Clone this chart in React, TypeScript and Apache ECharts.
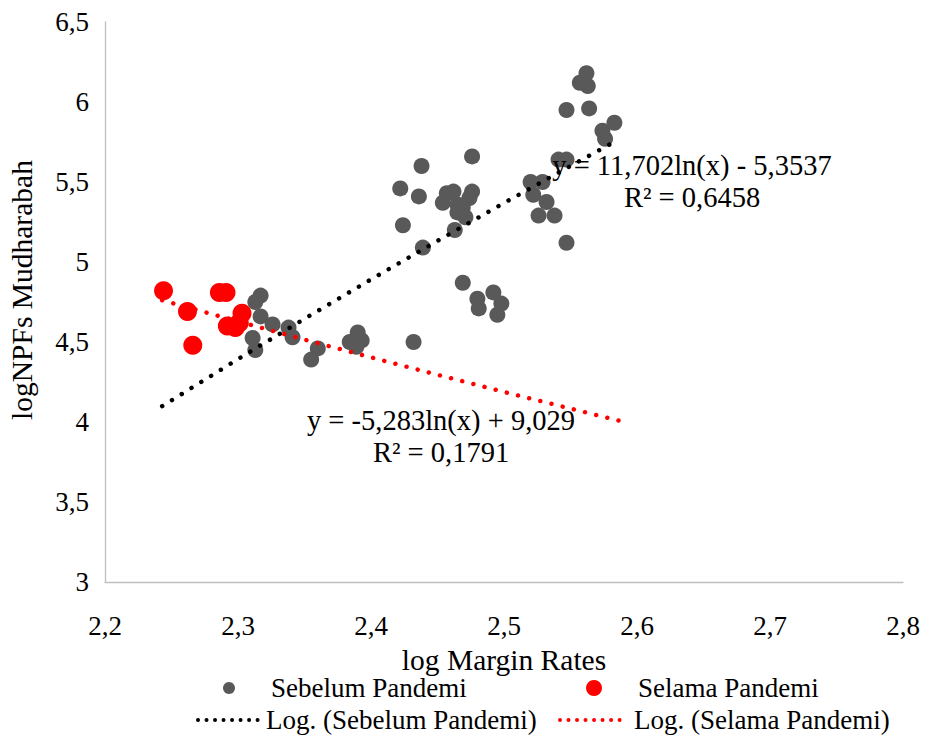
import React, { useEffect, useRef } from "react";
import * as echarts from "echarts";

// Sebelum Pandemi (grey points)
const sebelumX = [
  2.562, 2.557, 2.563, 2.547, 2.564, 2.574, 2.583, 2.576, 2.541, 2.547,
  2.520, 2.529, 2.522, 2.532, 2.526, 2.538, 2.547, 2.438, 2.476, 2.422,
  2.436, 2.424, 2.439, 2.457, 2.462, 2.476, 2.454, 2.474, 2.465, 2.469,
  2.465, 2.471, 2.463, 2.469, 2.480, 2.481, 2.492, 2.498, 2.495, 2.432,
  2.390, 2.384, 2.393, 2.389, 2.360, 2.355, 2.317, 2.313, 2.317, 2.326,
  2.338, 2.341, 2.311, 2.313,
];
const sebelumY = [
  6.18, 6.12, 6.10, 5.95, 5.96, 5.82, 5.87, 5.77, 5.64, 5.64,
  5.50, 5.50, 5.42, 5.375, 5.29, 5.29, 5.12, 5.60, 5.66, 5.46,
  5.41, 5.23, 5.09, 5.43, 5.44, 5.44, 5.37, 5.40, 5.36, 5.34,
  5.31, 5.28, 5.20, 4.87, 4.77, 4.71, 4.81, 4.74, 4.67, 4.50,
  4.56, 4.50, 4.51, 4.47, 4.46, 4.39, 4.79, 4.75, 4.66, 4.61,
  4.59, 4.53, 4.525, 4.45,
];

// Selama Pandemi (red points)
const selamaX = [2.244, 2.262, 2.266, 2.286, 2.291, 2.303, 2.292, 2.298, 2.301];
const selamaY = [4.82, 4.69, 4.48, 4.81, 4.81, 4.68, 4.60, 4.59, 4.62];

// Logarithmic trendlines
const trendSebelumX = [2.243, 2.3, 2.35, 2.4, 2.45, 2.5, 2.55, 2.585];
const trendSebelumY = [4.099, 4.393, 4.645, 4.891, 5.132, 5.369, 5.6, 5.76];
const trendSelamaX = [2.243, 2.3, 2.35, 2.4, 2.45, 2.5, 2.55, 2.59];
const trendSelamaY = [4.761, 4.629, 4.515, 4.404, 4.295, 4.188, 4.084, 4.001];

const eqSebelum = ["y = 11,702ln(x) - 5,3537", "R² = 0,6458"];
const eqSelama = ["y = -5,283ln(x) + 9,029", "R² = 0,1791"];

const legendNames = [
  "Sebelum Pandemi",
  "Selama Pandemi",
  "Log. (Sebelum Pandemi)",
  "Log. (Selama Pandemi)",
];

const xTitle = "log Margin Rates";
const yTitle = "logNPFs Mudharabah";

const FONT = '"Liberation Serif", "Times New Roman", serif';
const GREY = "#595959";
const RED = "#ff0000";

function zip(xs: number[], ys: number[]) {
  return xs.map((x, i) => [x, ys[i]]);
}

function fmt(v: number) {
  const r = Math.round(v * 10) / 10;
  return Number.isInteger(r) ? String(r) : r.toFixed(1).replace(".", ",");
}

function txt(text: string, x: number, y: number, size: number, align = "center", extra: any = {}) {
  return {
    type: "text",
    x,
    y,
    z: 100,
    ...extra,
    style: {
      text,
      fill: "#000",
      fontSize: size,
      fontFamily: FONT,
      align,
      verticalAlign: "middle",
      textAlign: align,
      textVerticalAlign: "middle",
    },
  };
}

export default function App() {
  const ref = useRef<HTMLDivElement>(null);

  useEffect(() => {
    if (!ref.current) return;
    const chart = echarts.init(ref.current, undefined, { renderer: "svg" });
    const dotLine = (color: string) => ({
      color,
      width: 4.5,
      type: [0.01, 11.5],
      cap: "round",
    });
    chart.setOption({
      animation: false,
      backgroundColor: "#ffffff",
      grid: { left: 105, top: 22, right: 24, bottom: 158 },
      xAxis: {
        type: "value",
        min: 2.2,
        max: 2.8,
        interval: 0.1,
        axisLine: { show: true, lineStyle: { color: "#bfbfbf", width: 1.3 } },
        axisTick: { show: false },
        splitLine: { show: false },
        axisLabel: {
          formatter: (v: number) => fmt(v),
          fontFamily: FONT,
          fontSize: 27,
          color: "#000",
          margin: 30,
        },
      },
      yAxis: {
        type: "value",
        min: 3,
        max: 6.5,
        interval: 0.5,
        axisLine: { show: true, lineStyle: { color: "#bfbfbf", width: 1.3 } },
        axisTick: { show: false },
        splitLine: { show: false },
        axisLabel: {
          formatter: (v: number) => fmt(v),
          fontFamily: FONT,
          fontSize: 27,
          color: "#000",
          margin: 16,
        },
      },
      series: [
        {
          name: legendNames[0],
          type: "scatter",
          data: zip(sebelumX, sebelumY),
          symbol: "circle",
          symbolSize: 16,
          itemStyle: { color: GREY, opacity: 1 },
          z: 2,
        },
        {
          name: legendNames[1],
          type: "scatter",
          data: zip(selamaX, selamaY),
          symbol: "circle",
          symbolSize: 19,
          itemStyle: { color: RED, opacity: 1 },
          z: 3,
        },
        {
          name: legendNames[2],
          type: "line",
          data: zip(trendSebelumX, trendSebelumY),
          showSymbol: false,
          symbol: "none",
          lineStyle: dotLine("#000000"),
          z: 4,
        },
        {
          name: legendNames[3],
          type: "line",
          data: zip(trendSelamaX, trendSelamaY),
          showSymbol: false,
          symbol: "none",
          lineStyle: dotLine(RED),
          z: 4,
        },
      ],
      graphic: [
        txt(eqSebelum[0], 692, 165, 28.5),
        txt(eqSebelum[1], 692, 197, 28.5),
        txt(eqSelama[0], 441, 420, 28.5),
        txt(eqSelama[1], 441, 452, 28.5),
        txt(xTitle, 504, 660, 29.5),
        txt(yTitle, 22, 290, 29.5, "center", { rotation: Math.PI / 2 }),
        // legend
        { type: "circle", shape: { cx: 229, cy: 688, r: 6 }, style: { fill: GREY }, z: 100 },
        txt(legendNames[0], 271, 688, 27, "left"),
        { type: "circle", shape: { cx: 594, cy: 688, r: 8 }, style: { fill: RED }, z: 100 },
        txt(legendNames[1], 638, 688, 27, "left"),
        {
          type: "line",
          shape: { x1: 198, y1: 720, x2: 260, y2: 720 },
          style: { stroke: "#000", lineWidth: 4, lineDash: [0.01, 8.5], lineCap: "round" },
          z: 100,
        },
        txt(legendNames[2], 266, 720, 27, "left"),
        {
          type: "line",
          shape: { x1: 560, y1: 720, x2: 628, y2: 720 },
          style: { stroke: RED, lineWidth: 4, lineDash: [0.01, 8.5], lineCap: "round" },
          z: 100,
        },
        txt(legendNames[3], 634, 720, 27, "left"),
      ],
    });
    return () => chart.dispose();
  }, []);

  return (
    <div
      ref={ref}
      style={{ position: "fixed", left: 0, top: 0, width: 927, height: 740, background: "#fff" }}
    />
  );
}
